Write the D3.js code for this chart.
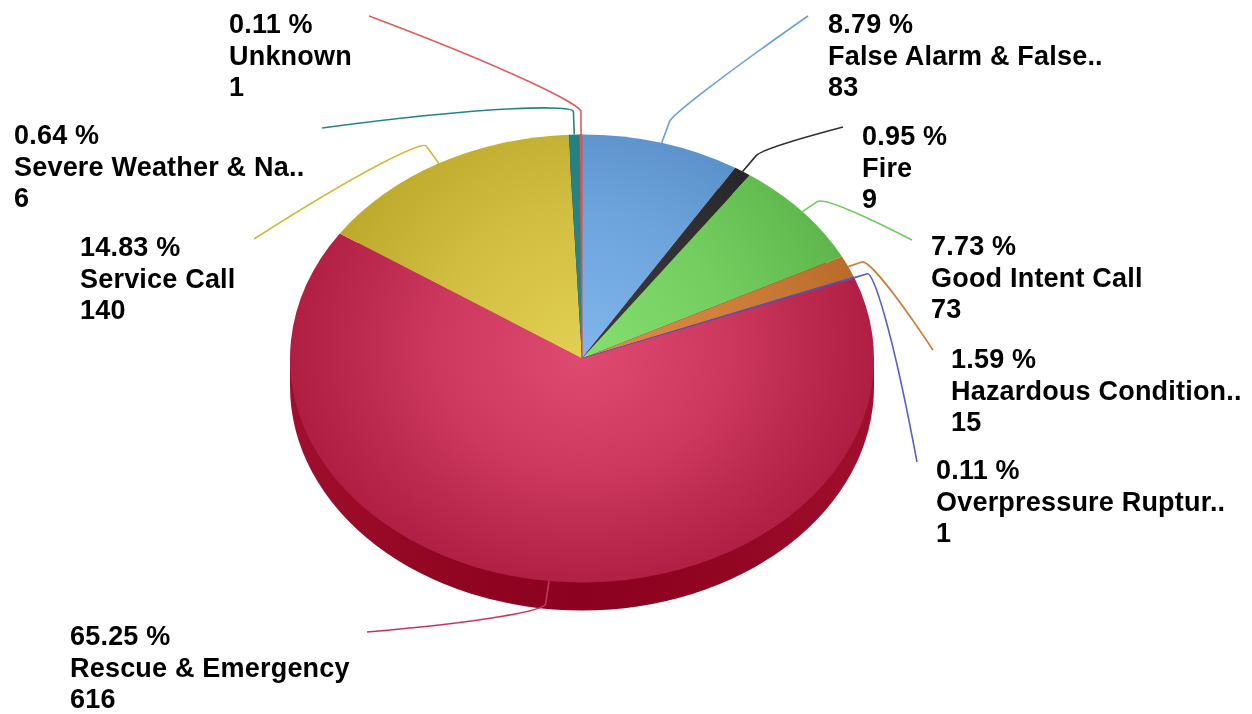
<!DOCTYPE html>
<html>
<head>
<meta charset="utf-8">
<script src="https://cdn.jsdelivr.net/npm/d3@7"></script>
<style>
    html, body { margin: 0; padding: 0; background: #fff; }
    svg { display: block; filter: blur(0.5px); }
    text { font-family: "Liberation Sans", Arial, sans-serif; font-weight: bold; font-size: 27px; letter-spacing: 0.2px; fill: #000; }
</style>
</head>
<body>
<div id="chart"></div>
<script>
const categories = ["False Alarm & False..", "Fire", "Good Intent Call", "Hazardous Condition..", "Overpressure Ruptur..", "Rescue & Emergency", "Service Call", "Severe Weather & Na..", "Unknown"]
const counts = [83, 9, 73, 15, 1, 616, 140, 6, 1]
const percents = ["8.79 %", "0.95 %", "7.73 %", "1.59 %", "0.11 %", "65.25 %", "14.83 %", "0.64 %", "0.11 %"]

const innerColors = ["#7fb6ec", "#3c3c3e", "#84e070", "#e08e48", "#6a6ad8", "#de4a70", "#e2d052", "#27878a", "#e8686a"]
const outerColors = ["#5288c2", "#222224", "#5cb448", "#b86a28", "#5050b8", "#b01e44", "#b9a628", "#22807c", "#d85050"]

// label layout: where each leader ends, where each text block starts
const leaderEnds = [[808, 16], [843, 127], [912, 240], [933, 350], [917, 462], [367, 632], [254, 239], [322, 128], [369, 16]]
const labelStarts = [[828, 33], [862, 145], [931, 255], [951, 368], [936, 479], [70, 645], [80, 256], [14, 144], [229, 33]]

const cfg = {width: 1252, height: 714, cx: 582, cy: 358.5, rx: 292, ry: 224, depth: 28, lineHeight: 31.5}

const svg = d3.select("#chart")
    .append("svg")
        .attr("width", cfg.width)
        .attr("height", cfg.height)

const defs = svg.append("defs")
const squash = cfg.ry / cfg.rx

categories.forEach((_, i) => {
    const grad = defs.append("radialGradient")
        .attr("id", `slice${i}`)
        .attr("gradientUnits", "userSpaceOnUse")
        .attr("cx", 0)
        .attr("cy", i === 5 ? -21 : 0)
        .attr("fx", 0)
        .attr("fy", 0)
        .attr("r", cfg.rx)
        // upper slices fall off in a round gradient, the big lower slice a bit flatter
        .attr("gradientTransform", `scale(1, ${i === 5 ? 1.116 : 1 / squash})`)
    grad.append("stop").attr("offset", "0%").attr("stop-color", innerColors[i])
    grad.append("stop").attr("offset", "50%").attr("stop-color", d3.interpolateRgb(innerColors[i], outerColors[i])(0.4))
    grad.append("stop").attr("offset", "100%").attr("stop-color", outerColors[i])
})

const wallGrad = defs.append("linearGradient").attr("id", "wall")
wallGrad.append("stop").attr("offset", "0%").attr("stop-color", "#a00f2e")
wallGrad.append("stop").attr("offset", "25%").attr("stop-color", "#920622")
wallGrad.append("stop").attr("offset", "50%").attr("stop-color", "#8c0020")
wallGrad.append("stop").attr("offset", "75%").attr("stop-color", "#920622")
wallGrad.append("stop").attr("offset", "100%").attr("stop-color", "#a00f2e")

const pieData = d3.pie().sort(null)(counts)
const arc = d3.arc().innerRadius(0).outerRadius(cfg.rx)

// side wall: a pie disc pushed down plus the band that joins it to the top
const wall = svg.append("g").attr("fill", "url(#wall)")
wall.append("path")
    .attr("transform", `translate(${cfg.cx}, ${cfg.cy + cfg.depth}) scale(1, ${squash})`)
    .attr("d", arc({startAngle: 0, endAngle: 2 * Math.PI}))
wall.append("rect")
    .attr("x", cfg.cx - cfg.rx)
    .attr("y", cfg.cy)
    .attr("width", cfg.rx * 2)
    .attr("height", cfg.depth)

svg.append("g")
    .attr("transform", `translate(${cfg.cx}, ${cfg.cy}) scale(1, ${squash})`)
    .selectAll("path")
    .data(pieData)
    .join("path")
        .attr("d", arc)
        .attr("fill", (d, i) => `url(#slice${i})`)
        // the one-count slivers would vanish without an outline
        .attr("stroke", (d, i) => d.value <= 1 ? outerColors[i] : "none")
        .attr("stroke-width", 1)
        .attr("vector-effect", "non-scaling-stroke")

const rimPoint = (d, k) => {
    const mid = (d.startAngle + d.endAngle) / 2
    return [cfg.cx + cfg.rx * k * Math.sin(mid), cfg.cy - cfg.ry * k * Math.cos(mid)]
}

// sideways leaders bend sooner than the ones going up or down
const elbowFactor = d => 1.13 - 0.07 * Math.sin((d.startAngle + d.endAngle) / 2) ** 2

// straight out of the rim, tight bend at the elbow, then a long slight bow to the label
const leaderPath = (d, i) => {
    const start = rimPoint(d, 1)
    const elbow = rimPoint(d, elbowFactor(d))
    const end = leaderEnds[i]
    const stem = Math.hypot(elbow[0] - start[0], elbow[1] - start[1])
    const run = Math.hypot(end[0] - elbow[0], end[1] - elbow[1])
    const ux = (elbow[0] - start[0]) / stem
    const uy = (elbow[1] - start[1]) / stem
    const bow = run * 0.03
    const p = d3.path()
    p.moveTo(start[0], start[1])
    p.lineTo(elbow[0] - ux * 6, elbow[1] - uy * 6)
    p.bezierCurveTo(
        elbow[0], elbow[1],
        elbow[0] + (end[0] - elbow[0]) * 0.3 + ux * bow, elbow[1] + (end[1] - elbow[1]) * 0.3 + uy * bow,
        end[0], end[1]
    )
    return p.toString()
}

svg.append("g")
    .attr("fill", "none")
    .attr("stroke-width", 1.6)
    .selectAll("path")
    .data(pieData)
    .join("path")
        .attr("d", leaderPath)
        .attr("stroke", (d, i) => d3.interpolateRgb(innerColors[i], outerColors[i])(0.5))

const labels = svg.append("g")
    .selectAll("text")
    .data(categories)
    .join("text")
        .attr("transform", (d, i) => `translate(${labelStarts[i][0]}, ${labelStarts[i][1]})`)

labels.append("tspan").attr("x", 0).attr("y", 0).text((d, i) => percents[i])
labels.append("tspan").attr("x", 0).attr("y", cfg.lineHeight).text(d => d)
labels.append("tspan").attr("x", 0).attr("y", cfg.lineHeight * 2).text((d, i) => counts[i])
</script>
</body>
</html>
